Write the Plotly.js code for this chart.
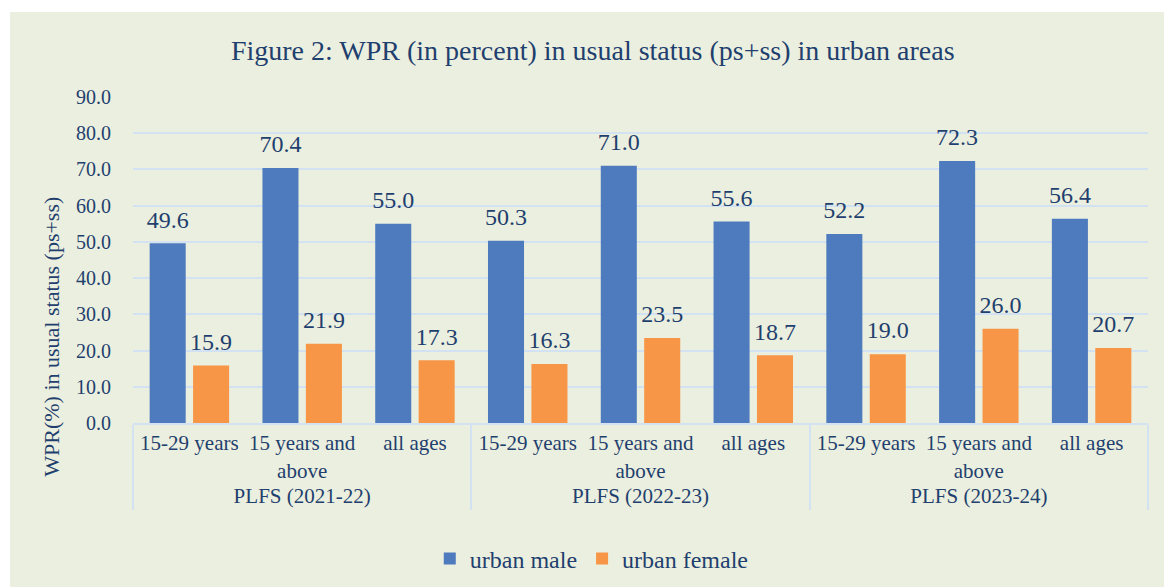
<!DOCTYPE html>
<html>
<head>
<meta charset="utf-8">
<script src="https://cdn.plot.ly/plotly-3.0.1.min.js"></script>
<style>
  html, body { margin: 0; padding: 0; background: #ffffff; }
  #chart { position: absolute; left: 10px; top: 12px; width: 1154px; height: 575px; }
</style>
</head>
<body>
<div id="chart"></div>
<script>
// ---- data ----
const periods = ['PLFS (2021-22)', 'PLFS (2022-23)', 'PLFS (2023-24)'];
const ageGroups = ['15-29 years', '15 years and<br>above', 'all ages'];
const urbanMale = [49.6, 70.4, 55.0, 50.3, 71.0, 55.6, 52.2, 72.3, 56.4];
const urbanFemale = [15.9, 21.9, 17.3, 16.3, 23.5, 18.7, 19.0, 26.0, 20.7];
const seriesNames = ['urban male', 'urban female'];
const yTicks = [0, 10, 20, 30, 40, 50, 60, 70, 80, 90];
const yTitle = 'WPR(%) in usual status (ps+ss)';

// build multicategory x
const outer = [], inner = [];
periods.forEach(p => ageGroups.forEach(a => { outer.push(p); inner.push(a); }));

const textColor = '#1f3f6e';
const gridColor = '#d3e2f2';
const fontFam = 'Liberation Serif';

function barTrace(name, vals, color) {
  return {
    type: 'bar', name: name, x: [outer, inner], y: vals,
    marker: { color: color }, offsetgroup: name,
    hoverinfo: 'skip'
  };
}
function labelTrace(name, vals) {
  return {
    type: 'scatter', mode: 'markers+text', x: [outer, inner], y: vals,
    offsetgroup: name, showlegend: false,
    marker: { size: 14, color: 'rgba(0,0,0,0)' },
    text: vals.map(v => v.toFixed(1)), textposition: 'top center',
    textfont: { family: fontFam, size: 24, color: textColor },
    cliponaxis: false, hoverinfo: 'skip'
  };
}

const traces = [
  barTrace(seriesNames[0], urbanMale, '#4e7bbd'),
  barTrace(seriesNames[1], urbanFemale, '#f79646'),
  labelTrace(seriesNames[0], urbanMale),
  labelTrace(seriesNames[1], urbanFemale)
];

const layout = {
  width: 1154, height: 575,
  paper_bgcolor: '#ebefdf', plot_bgcolor: '#ebefdf',
  font: { family: fontFam, color: textColor, size: 20 },
  margin: { l: 123, r: 16, t: 85, b: 164, autoexpand: false },
  title: {
    text: 'Figure 2: WPR (in percent) in usual status (ps+ss) in urban areas',
    font: { family: fontFam, size: 28, color: textColor },
    xref: 'container', x: 0.505, xanchor: 'center',
    yref: 'container', y: 0.934, yanchor: 'middle'
  },
  barmode: 'group', bargap: 0.23, bargroupgap: 0.17,
  scattermode: 'group', scattergap: 0.23,
  showlegend: true,
  legend: {
    orientation: 'h', x: 0.452, xanchor: 'center', y: -0.417, yanchor: 'middle',
    font: { family: fontFam, size: 24, color: textColor },
    bgcolor: 'rgba(0,0,0,0)', itemwidth: 30
  },
  xaxis: {
    type: 'multicategory', tickangle: 0,
    tickfont: { family: fontFam, size: 21, color: textColor },
    showline: true, linecolor: gridColor, linewidth: 2,
    showdividers: true, dividercolor: gridColor, dividerwidth: 2,
    ticks: 'outside', ticklen: 24, tickcolor: 'rgba(0,0,0,0)',
    showgrid: false, automargin: false
  },
  yaxis: {
    range: [0, 90], tickvals: yTicks, ticktext: yTicks.map(v => v.toFixed(1)),
    tickfont: { family: fontFam, size: 20, color: textColor },
    showgrid: true, gridcolor: gridColor, gridwidth: 2,
    zeroline: false, showline: false,
    ticks: 'outside', ticklen: 17, tickcolor: 'rgba(0,0,0,0)',
    automargin: false
  },
  annotations: [{
    text: yTitle, textangle: -90, showarrow: false,
    xref: 'paper', yref: 'paper', x: -0.080, y: 0.264,
    xanchor: 'center', yanchor: 'middle',
    font: { family: fontFam, size: 22, color: textColor }
  }]
};

Plotly.newPlot('chart', traces, layout, { displayModeBar: false, staticPlot: true });
</script>
</body>
</html>
